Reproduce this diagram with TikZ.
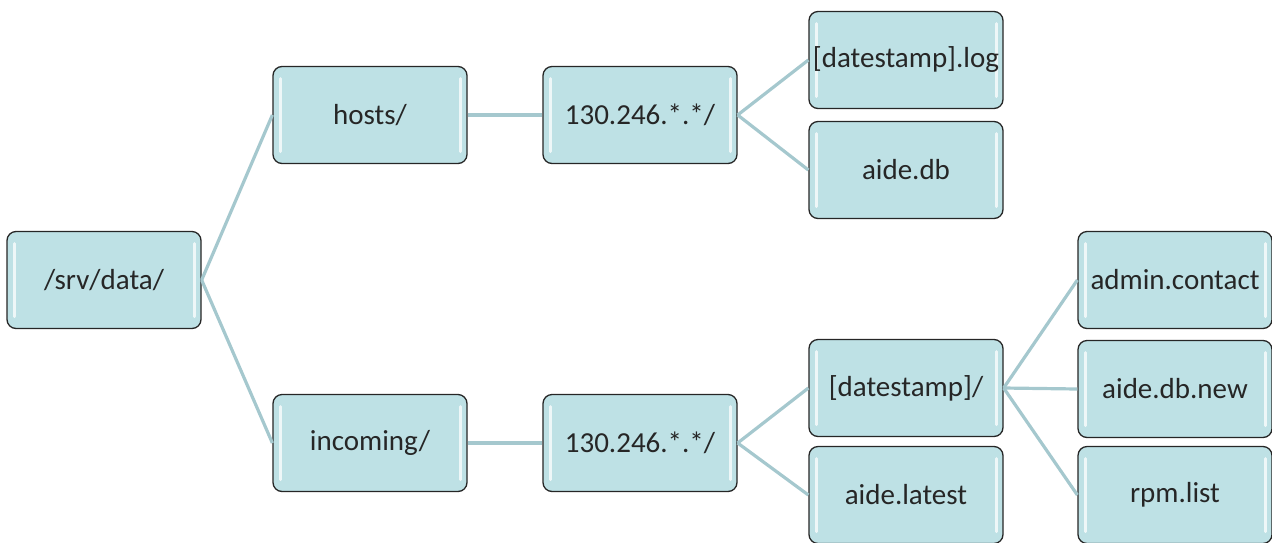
\documentclass[tikz,border=0pt]{standalone}
\usepackage{fontspec}
\setmainfont{Carlito}
\begin{document}
\begin{tikzpicture}[x=1pt,y=-1pt,
  filebox/.style={draw=black!85, line width=1.3pt, rounded corners=9pt,
    fill=boxblue, minimum width=194pt, minimum height=97pt, inner sep=0pt,
    text=black!85, font=\fontsize{29}{34}\selectfont,
    path picture={
      \draw[white, opacity=0.75, line width=3pt, line cap=round]
        ([xshift=7pt,yshift=-12pt]path picture bounding box.north west) --
        ([xshift=7pt,yshift=12pt]path picture bounding box.south west);
      \draw[white, opacity=0.75, line width=3pt, line cap=round]
        ([xshift=-7pt,yshift=-12pt]path picture bounding box.north east) --
        ([xshift=-7pt,yshift=12pt]path picture bounding box.south east);
    }},
  link/.style={draw=linkblue, line width=3.2pt}]
\definecolor{boxblue}{RGB}{190,225,229}
\definecolor{linkblue}{RGB}{165,200,206}
\useasboundingbox (0,0) rectangle (1272,542);

\node[filebox] (srv) at (104,280) {/srv/data/};
\node[filebox] (hosts) at (370,115) {hosts/};
\node[filebox] (incoming) at (370,443) {incoming/};
\node[filebox] (ipa) at (640,115) {130.246.*.*/};
\node[filebox] (ipb) at (640,443) {130.246.*.*/};
\node[filebox] (dslog) at (906,60) {[datestamp].log};
\node[filebox] (aidedb) at (906,170) {aide.db};
\node[filebox] (dsdir) at (906,388) {[datestamp]/};
\node[filebox] (latest) at (906,495) {aide.latest};
\node[filebox] (admin) at (1175,280) {admin.contact};
\node[filebox] (dbnew) at (1175,389) {aide.db.new};
\node[filebox] (rpm) at (1175,495) {rpm.list};

\path[link] (srv.east) -- (hosts.west);
\path[link] (srv.east) -- (incoming.west);
\path[link] (hosts.east) -- (ipa.west);
\path[link] (incoming.east) -- (ipb.west);
\path[link] (ipa.east) -- (dslog.west);
\path[link] (ipa.east) -- (aidedb.west);
\path[link] (ipb.east) -- (dsdir.west);
\path[link] (ipb.east) -- (latest.west);
\path[link] (dsdir.east) -- (admin.west);
\path[link] (dsdir.east) -- (dbnew.west);
\path[link] (dsdir.east) -- (rpm.west);
\end{tikzpicture}
\end{document}
